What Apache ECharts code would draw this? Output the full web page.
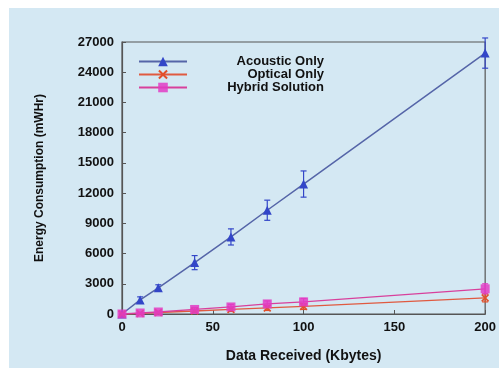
<!DOCTYPE html>
<html><head><meta charset="utf-8">
<script src="https://cdn.jsdelivr.net/npm/echarts@6/dist/echarts.min.js"></script>
<style>html,body{margin:0;padding:0;background:#ffffff;}#c{width:499px;height:374px;}</style>
</head><body><div id="c"></div>
<script>
const xValues = [0, 10, 20, 40, 60, 80, 100, 200];
const acoustic = [0, 1400, 2600, 5100, 7650, 10300, 12900, 25900];
const acousticErr = [0, 300, 300, 700, 800, 1000, 1300, 1500];
const optical = [0, 60, 150, 300, 450, 600, 750, 1600];
const opticalErr = [0, 50, 80, 150, 200, 250, 300, 400];
const hybrid = [0, 100, 200, 450, 700, 1000, 1200, 2500];
const hybridErr = [0, 80, 100, 200, 250, 300, 350, 500];
const yTicks = [0, 3000, 6000, 9000, 12000, 15000, 18000, 21000, 24000, 27000];
const names = ['Acoustic Only', 'Optical Only', 'Hybrid Solution'];
const colors = ['#3346c8', '#e2502a', '#e23cc4'];
const lineColors = ['#5565a8', '#e05a40', '#d8409c'];

function pairs(ys){ return xValues.map((x,i)=>[x, ys[i]]); }
function errData(ys, es){ return xValues.map((x,i)=>[x, ys[i]-es[i], ys[i]+es[i]]); }
function errSeries(ys, es, color){
  return {
    type: 'custom', z: 3, silent: true,
    data: errData(ys, es),
    renderItem: function(params, api){
      const x = api.value(0);
      const lo = api.coord([x, api.value(1)]);
      const hi = api.coord([x, api.value(2)]);
      const w = 3;
      return { type: 'group', children: [
        {type:'line', shape:{x1:lo[0],y1:lo[1],x2:hi[0],y2:hi[1]}, style:{stroke:color,lineWidth:1.2}},
        {type:'line', shape:{x1:lo[0]-w,y1:lo[1],x2:lo[0]+w,y2:lo[1]}, style:{stroke:color,lineWidth:1.2}},
        {type:'line', shape:{x1:hi[0]-w,y1:hi[1],x2:hi[0]+w,y2:hi[1]}, style:{stroke:color,lineWidth:1.2}}
      ]};
    }
  };
}
const crossPath = 'path://M0,1.5L1.5,0L5,3.5L8.5,0L10,1.5L6.5,5L10,8.5L8.5,10L5,6.5L1.5,10L0,8.5L3.5,5Z';

const chart = echarts.init(document.getElementById('c'));
const fontBold = {fontFamily:'Liberation Sans, Arial, sans-serif', fontWeight:'bold', color:'#111', fontSize:13};
chart.setOption({
  backgroundColor: '#ffffff',
  animation: false,
  graphic: [{type:'rect', z:-10, silent:true, shape:{x:9, y:8, width:490, height:360}, style:{fill:'#d4e8f3'}}],
  grid: {left:122, right:9, top:42, bottom:60, show:true, borderColor:'#555', borderWidth:1.2, backgroundColor:'transparent'},
  legend: {
    orient:'vertical', left:133, top:50, itemGap:0, itemWidth:48, itemHeight:12,
    data: names,
    formatter: n => '{a|' + n + '}',
    textStyle: {rich: {a: Object.assign({}, fontBold, {fontSize:13, width:132, align:'right', lineHeight:12})}}
  },
  xAxis: {
    type:'value', min:0, max:200, interval:50,
    name:'Data Received (Kbytes)', nameLocation:'middle', nameGap:35,
    nameTextStyle: Object.assign({}, fontBold, {fontSize:14}),
    axisLine:{show:true, lineStyle:{color:'#555', width:1.2}},
    axisTick:{show:true, inside:true, length:4, lineStyle:{color:'#555'}},
    axisLabel: Object.assign({}, fontBold, {margin:7}),
    splitLine:{show:false}
  },
  yAxis: {
    type:'value', min:0, max:27000, interval:3000,
    name:'Energy Consumption (mWHr)', nameLocation:'middle', nameGap:76, nameRotate:90,
    nameTextStyle: Object.assign({}, fontBold, {fontSize:12}),
    axisLine:{show:true, lineStyle:{color:'#555', width:1.2}},
    axisTick:{show:true, inside:true, length:4, lineStyle:{color:'#555'}},
    axisLabel: Object.assign({}, fontBold, {margin:8, formatter: v => yTicks.includes(v) ? String(v) : ''}),
    splitLine:{show:false}
  },
  series: [
    {name:names[0], type:'line', data:pairs(acoustic), symbol:'triangle', symbolSize:9, z:4,
     itemStyle:{color:colors[0]}, lineStyle:{color:lineColors[0], width:1.5}},
    {name:names[1], type:'line', data:pairs(optical), symbol:crossPath, symbolSize:8, z:4,
     itemStyle:{color:colors[1]}, lineStyle:{color:lineColors[1], width:1.3}},
    {name:names[2], type:'line', data:pairs(hybrid), symbol:'rect', symbolSize:9, z:5,
     itemStyle:{color:colors[2], opacity:0.85}, lineStyle:{color:lineColors[2], width:1.3}},
    errSeries(acoustic, acousticErr, colors[0]),
    errSeries(optical, opticalErr, colors[1]),
    errSeries(hybrid, hybridErr, colors[2])
  ]
});
</script></body></html>
